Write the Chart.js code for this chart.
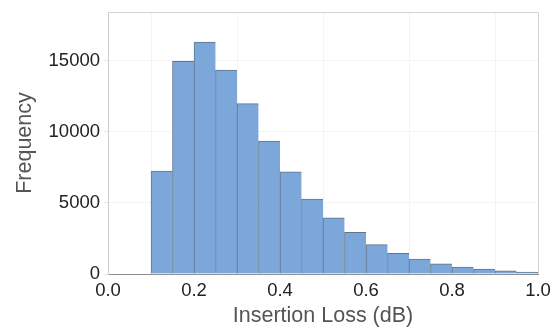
<!DOCTYPE html>
<html>
<head>
<meta charset="utf-8">
<script src="https://cdn.jsdelivr.net/npm/chart.js@4.4.1/dist/chart.umd.min.js"></script>
<style>
  html, body { margin: 0; padding: 0; background: #fff; }
  #wrap { width: 559px; height: 329px; position: relative; }
</style>
</head>
<body>
<div id="wrap"><canvas id="histChart"></canvas></div>
<script>
// histogram bins (dB) and counts
const binStarts = [0.10, 0.15, 0.20, 0.25, 0.30, 0.35, 0.40, 0.45, 0.50,
                   0.55, 0.60, 0.65, 0.70, 0.75, 0.80, 0.85, 0.90, 0.95];
const binWidth = 0.05;
const counts = [7220, 14930, 16280, 14320, 11960, 9340, 7170, 5260, 3950,
                2920, 2060, 1450, 1050, 720, 490, 350, 230, 140];
const xTicks = [0, 0.2, 0.4, 0.6, 0.8, 1.0];
const yTicks = [0, 5000, 10000, 15000];

const points = binStarts.map((s, i) => ({ x: s + binWidth / 2, y: counts[i] }));
const lastIdx = counts.length - 1;

// light frame on top/right of the plot area
const frame = {
  id: 'frame',
  beforeDatasetsDraw(chart) {
    const { ctx, chartArea: a } = chart;
    ctx.save();
    ctx.strokeStyle = '#d2d2d2';
    ctx.lineWidth = 1;
    ctx.beginPath();
    ctx.moveTo(a.left, a.top + 0.5);
    ctx.lineTo(a.right + 0.5, a.top + 0.5);
    ctx.lineTo(a.right + 0.5, a.bottom);
    ctx.stroke();
    ctx.restore();
  }
};

new Chart(document.getElementById('histChart'), {
  type: 'bar',
  data: {
    datasets: [{
      data: points,
      backgroundColor: '#7ba7da',
      borderColor: '#637587',
      borderWidth: (c) => ({ left: 1, top: 1, bottom: 0, right: c.dataIndex === lastIdx ? 1 : 0 }),
      borderSkipped: false,
      barPercentage: 1,
      categoryPercentage: 1
    }]
  },
  plugins: [frame],
  options: {
    responsive: true,
    maintainAspectRatio: false,
    animation: false,
    layout: { padding: { left: 0, right: 21, top: 12, bottom: 0 } },
    plugins: {
      legend: { display: false },
      tooltip: { enabled: false }
    },
    scales: {
      x: {
        type: 'linear',
        min: 0,
        max: 1,
        offset: false,
        afterBuildTicks: (s) => { s.ticks = xTicks.map(v => ({ value: v })); },
        afterFit: (s) => { s.height = 55; },
        ticks: {
          color: '#222',
          font: { family: 'Liberation Sans, Arial', size: 18.5 },
          padding: 2,
          maxRotation: 0,
          callback: (v) => v.toFixed(1)
        },
        grid: { color: '#f4f4f4', tickLength: 4, tickColor: '#ffffff' },
        border: { color: '#8f8f8f' },
        title: {
          display: true,
          text: 'Insertion Loss (dB)',
          color: '#555',
          font: { family: 'Liberation Sans, Arial', size: 21.5 },
          padding: { top: 2, bottom: 0 }
        }
      },
      y: {
        min: 0,
        max: 18400,
        afterBuildTicks: (s) => { s.ticks = yTicks.map(v => ({ value: v })); },
        afterFit: (s) => { s.width = 108; s.paddingTop = 0; s.paddingBottom = 0; },
        ticks: {
          color: '#222',
          font: { family: 'Liberation Sans, Arial', size: 18.5 },
          padding: 4,
          callback: (v) => String(v)
        },
        grid: { color: '#f4f4f4', tickLength: 4, tickColor: '#e6e6e6' },
        border: { color: '#cfcfcf' },
        title: {
          display: true,
          text: 'Frequency',
          color: '#555',
          font: { family: 'Liberation Sans, Arial', size: 21.5 },
          padding: { top: 12, bottom: 0 }
        }
      }
    }
  }
});
</script>
</body>
</html>
